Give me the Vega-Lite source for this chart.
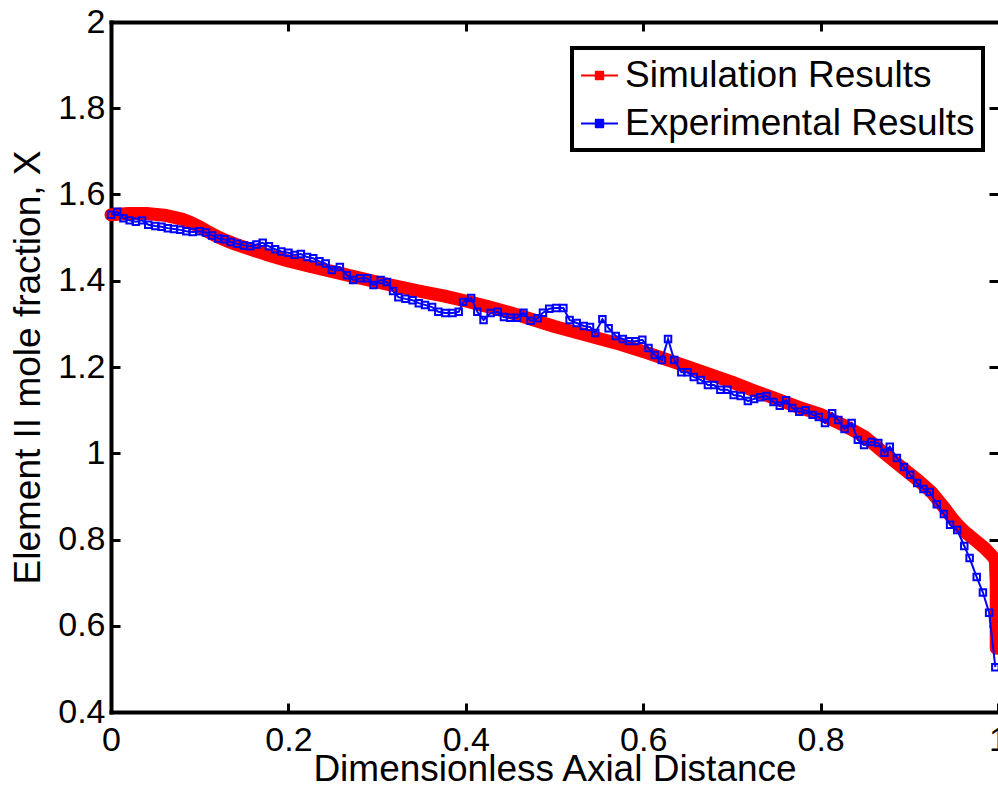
{
  "$schema": "https://vega.github.io/schema/vega-lite/v6.json",
  "width": 887,
  "height": 690,
  "autosize": {"type": "none"},
  "padding": {"left": 111, "top": 22, "right": 0, "bottom": 81},
  "background": "white",
  "config": {
    "view": {"stroke": null},
    "font": "Liberation Sans",
    "axis": {
      "domainColor": "black", "domainWidth": 4, "domainCap": "square",
      "tickColor": "black", "tickWidth": 3, "tickSize": -9,
      "labelFont": "Liberation Sans", "labelFontSize": 34, "labelColor": "black",
      "titleFont": "Liberation Sans", "titleFontSize": 37, "titleFontWeight": "normal", "titleColor": "black",
      "grid": false, "labelFlush": false, "labelOverlap": false
    }
  },
  "datasets": {
    "sim": [
      {"s":"Simulation Results","x":0,"y":1.553},{"s":"Simulation Results","x":0.02,"y":1.556},{"s":"Simulation Results","x":0.04,"y":1.556},{"s":"Simulation Results","x":0.06,"y":1.552},{"s":"Simulation Results","x":0.08,"y":1.543},{"s":"Simulation Results","x":0.09,"y":1.535},{"s":"Simulation Results","x":0.1,"y":1.525},{"s":"Simulation Results","x":0.11,"y":1.513},{"s":"Simulation Results","x":0.12,"y":1.502},{"s":"Simulation Results","x":0.13,"y":1.493},{"s":"Simulation Results","x":0.14,"y":1.485},{"s":"Simulation Results","x":0.15,"y":1.478},{"s":"Simulation Results","x":0.175,"y":1.461},{"s":"Simulation Results","x":0.2,"y":1.446},{"s":"Simulation Results","x":0.225,"y":1.433},{"s":"Simulation Results","x":0.25,"y":1.421},{"s":"Simulation Results","x":0.275,"y":1.409},{"s":"Simulation Results","x":0.3,"y":1.397},{"s":"Simulation Results","x":0.325,"y":1.386},{"s":"Simulation Results","x":0.35,"y":1.375},{"s":"Simulation Results","x":0.375,"y":1.365},{"s":"Simulation Results","x":0.4,"y":1.353},{"s":"Simulation Results","x":0.425,"y":1.34},{"s":"Simulation Results","x":0.45,"y":1.326},{"s":"Simulation Results","x":0.475,"y":1.31},{"s":"Simulation Results","x":0.5,"y":1.294},{"s":"Simulation Results","x":0.525,"y":1.28},{"s":"Simulation Results","x":0.55,"y":1.266},{"s":"Simulation Results","x":0.575,"y":1.252},{"s":"Simulation Results","x":0.6,"y":1.236},{"s":"Simulation Results","x":0.625,"y":1.218},{"s":"Simulation Results","x":0.65,"y":1.201},{"s":"Simulation Results","x":0.675,"y":1.183},{"s":"Simulation Results","x":0.7,"y":1.165},{"s":"Simulation Results","x":0.725,"y":1.145},{"s":"Simulation Results","x":0.75,"y":1.126},{"s":"Simulation Results","x":0.775,"y":1.107},{"s":"Simulation Results","x":0.8,"y":1.09},{"s":"Simulation Results","x":0.825,"y":1.066},{"s":"Simulation Results","x":0.85,"y":1.038},{"s":"Simulation Results","x":0.872,"y":1.0},{"s":"Simulation Results","x":0.89,"y":0.97},{"s":"Simulation Results","x":0.91,"y":0.937},{"s":"Simulation Results","x":0.925,"y":0.91},{"s":"Simulation Results","x":0.94,"y":0.872},{"s":"Simulation Results","x":0.948,"y":0.85},{"s":"Simulation Results","x":0.955,"y":0.833},{"s":"Simulation Results","x":0.963,"y":0.817},{"s":"Simulation Results","x":0.975,"y":0.797},{"s":"Simulation Results","x":0.985,"y":0.78},{"s":"Simulation Results","x":0.993,"y":0.763},{"s":"Simulation Results","x":0.997,"y":0.752},{"s":"Simulation Results","x":0.998,"y":0.7},{"s":"Simulation Results","x":0.998,"y":0.64},{"s":"Simulation Results","x":0.998,"y":0.585},{"s":"Simulation Results","x":0.998,"y":0.548}
    ],
    "exp": [
      {"s":"Experimental Results","x":0,"y":1.553},{"s":"Experimental Results","x":0.007,"y":1.56},{"s":"Experimental Results","x":0.014,"y":1.545},{"s":"Experimental Results","x":0.021,"y":1.54},{"s":"Experimental Results","x":0.028,"y":1.537},{"s":"Experimental Results","x":0.035,"y":1.54},{"s":"Experimental Results","x":0.042,"y":1.53},{"s":"Experimental Results","x":0.05,"y":1.527},{"s":"Experimental Results","x":0.057,"y":1.525},{"s":"Experimental Results","x":0.064,"y":1.522},{"s":"Experimental Results","x":0.071,"y":1.52},{"s":"Experimental Results","x":0.078,"y":1.518},{"s":"Experimental Results","x":0.085,"y":1.515},{"s":"Experimental Results","x":0.092,"y":1.513},{"s":"Experimental Results","x":0.1,"y":1.515},{"s":"Experimental Results","x":0.107,"y":1.512},{"s":"Experimental Results","x":0.114,"y":1.505},{"s":"Experimental Results","x":0.121,"y":1.498},{"s":"Experimental Results","x":0.128,"y":1.496},{"s":"Experimental Results","x":0.135,"y":1.49},{"s":"Experimental Results","x":0.142,"y":1.486},{"s":"Experimental Results","x":0.15,"y":1.482},{"s":"Experimental Results","x":0.157,"y":1.48},{"s":"Experimental Results","x":0.164,"y":1.484},{"s":"Experimental Results","x":0.171,"y":1.488},{"s":"Experimental Results","x":0.178,"y":1.48},{"s":"Experimental Results","x":0.185,"y":1.473},{"s":"Experimental Results","x":0.192,"y":1.468},{"s":"Experimental Results","x":0.2,"y":1.465},{"s":"Experimental Results","x":0.207,"y":1.46},{"s":"Experimental Results","x":0.214,"y":1.462},{"s":"Experimental Results","x":0.221,"y":1.455},{"s":"Experimental Results","x":0.228,"y":1.452},{"s":"Experimental Results","x":0.235,"y":1.445},{"s":"Experimental Results","x":0.242,"y":1.44},{"s":"Experimental Results","x":0.249,"y":1.425},{"s":"Experimental Results","x":0.258,"y":1.432},{"s":"Experimental Results","x":0.266,"y":1.413},{"s":"Experimental Results","x":0.273,"y":1.402},{"s":"Experimental Results","x":0.281,"y":1.406},{"s":"Experimental Results","x":0.289,"y":1.406},{"s":"Experimental Results","x":0.296,"y":1.39},{"s":"Experimental Results","x":0.304,"y":1.402},{"s":"Experimental Results","x":0.311,"y":1.397},{"s":"Experimental Results","x":0.318,"y":1.376},{"s":"Experimental Results","x":0.324,"y":1.362},{"s":"Experimental Results","x":0.332,"y":1.358},{"s":"Experimental Results","x":0.34,"y":1.355},{"s":"Experimental Results","x":0.347,"y":1.348},{"s":"Experimental Results","x":0.354,"y":1.344},{"s":"Experimental Results","x":0.362,"y":1.339},{"s":"Experimental Results","x":0.369,"y":1.328},{"s":"Experimental Results","x":0.377,"y":1.325},{"s":"Experimental Results","x":0.385,"y":1.325},{"s":"Experimental Results","x":0.392,"y":1.328},{"s":"Experimental Results","x":0.397,"y":1.351},{"s":"Experimental Results","x":0.406,"y":1.36},{"s":"Experimental Results","x":0.413,"y":1.328},{"s":"Experimental Results","x":0.42,"y":1.309},{"s":"Experimental Results","x":0.428,"y":1.325},{"s":"Experimental Results","x":0.436,"y":1.328},{"s":"Experimental Results","x":0.443,"y":1.316},{"s":"Experimental Results","x":0.45,"y":1.314},{"s":"Experimental Results","x":0.458,"y":1.314},{"s":"Experimental Results","x":0.465,"y":1.326},{"s":"Experimental Results","x":0.473,"y":1.307},{"s":"Experimental Results","x":0.481,"y":1.313},{"s":"Experimental Results","x":0.487,"y":1.326},{"s":"Experimental Results","x":0.494,"y":1.335},{"s":"Experimental Results","x":0.502,"y":1.337},{"s":"Experimental Results","x":0.51,"y":1.337},{"s":"Experimental Results","x":0.517,"y":1.309},{"s":"Experimental Results","x":0.525,"y":1.302},{"s":"Experimental Results","x":0.533,"y":1.295},{"s":"Experimental Results","x":0.54,"y":1.293},{"s":"Experimental Results","x":0.546,"y":1.279},{"s":"Experimental Results","x":0.554,"y":1.311},{"s":"Experimental Results","x":0.561,"y":1.29},{"s":"Experimental Results","x":0.569,"y":1.272},{"s":"Experimental Results","x":0.577,"y":1.265},{"s":"Experimental Results","x":0.584,"y":1.26},{"s":"Experimental Results","x":0.591,"y":1.26},{"s":"Experimental Results","x":0.599,"y":1.263},{"s":"Experimental Results","x":0.606,"y":1.244},{"s":"Experimental Results","x":0.613,"y":1.228},{"s":"Experimental Results","x":0.621,"y":1.216},{"s":"Experimental Results","x":0.628,"y":1.265},{"s":"Experimental Results","x":0.635,"y":1.216},{"s":"Experimental Results","x":0.643,"y":1.188},{"s":"Experimental Results","x":0.65,"y":1.188},{"s":"Experimental Results","x":0.657,"y":1.177},{"s":"Experimental Results","x":0.665,"y":1.17},{"s":"Experimental Results","x":0.673,"y":1.158},{"s":"Experimental Results","x":0.68,"y":1.158},{"s":"Experimental Results","x":0.687,"y":1.147},{"s":"Experimental Results","x":0.695,"y":1.147},{"s":"Experimental Results","x":0.702,"y":1.135},{"s":"Experimental Results","x":0.71,"y":1.133},{"s":"Experimental Results","x":0.718,"y":1.121},{"s":"Experimental Results","x":0.725,"y":1.126},{"s":"Experimental Results","x":0.732,"y":1.13},{"s":"Experimental Results","x":0.739,"y":1.133},{"s":"Experimental Results","x":0.747,"y":1.119},{"s":"Experimental Results","x":0.754,"y":1.11},{"s":"Experimental Results","x":0.761,"y":1.123},{"s":"Experimental Results","x":0.768,"y":1.105},{"s":"Experimental Results","x":0.776,"y":1.096},{"s":"Experimental Results","x":0.783,"y":1.1},{"s":"Experimental Results","x":0.791,"y":1.089},{"s":"Experimental Results","x":0.798,"y":1.084},{"s":"Experimental Results","x":0.805,"y":1.07},{"s":"Experimental Results","x":0.813,"y":1.093},{"s":"Experimental Results","x":0.82,"y":1.077},{"s":"Experimental Results","x":0.827,"y":1.056},{"s":"Experimental Results","x":0.835,"y":1.07},{"s":"Experimental Results","x":0.842,"y":1.031},{"s":"Experimental Results","x":0.849,"y":1.019},{"s":"Experimental Results","x":0.857,"y":1.026},{"s":"Experimental Results","x":0.865,"y":1.024},{"s":"Experimental Results","x":0.872,"y":1.001},{"s":"Experimental Results","x":0.878,"y":1.015},{"s":"Experimental Results","x":0.886,"y":0.989},{"s":"Experimental Results","x":0.894,"y":0.968},{"s":"Experimental Results","x":0.901,"y":0.95},{"s":"Experimental Results","x":0.909,"y":0.931},{"s":"Experimental Results","x":0.916,"y":0.917},{"s":"Experimental Results","x":0.923,"y":0.91},{"s":"Experimental Results","x":0.931,"y":0.882},{"s":"Experimental Results","x":0.939,"y":0.859},{"s":"Experimental Results","x":0.946,"y":0.834},{"s":"Experimental Results","x":0.954,"y":0.822},{"s":"Experimental Results","x":0.962,"y":0.785},{"s":"Experimental Results","x":0.968,"y":0.757},{"s":"Experimental Results","x":0.976,"y":0.713},{"s":"Experimental Results","x":0.983,"y":0.677},{"s":"Experimental Results","x":0.99,"y":0.63},{"s":"Experimental Results","x":0.997,"y":0.504}
    ]
  },
  "encoding": {
    "color": {
      "field": "s", "type": "nominal",
      "scale": {"domain": ["Simulation Results", "Experimental Results"], "range": ["#ff0000", "#0000ff"]},
      "legend": {
        "orient": "none", "legendX": 461, "legendY": 26, "title": null,
        "labelFont": "Liberation Sans", "labelFontSize": 37, "labelColor": "black", "labelLimit": 0,
        "symbolSize": 1369, "labelOffset": 6, "padding": 8, "rowPadding": 10,
        "strokeColor": "black", "fillColor": "white",
        "encode": {
          "legend": {"update": {"strokeWidth": {"value": 4}}},
          "symbols": {"update": {
            "shape": {"condition": {"test": "datum.value === 'Simulation Results'", "value": "M-1,0H-0.28M0.28,0H1M0.28,0L0.24,0.14L0.14,0.24L0,0.28L-0.14,0.24L-0.24,0.14L-0.28,0L-0.24,-0.14L-0.14,-0.24L0,-0.28L0.14,-0.24L0.24,-0.14Z"}, "value": "M-1,0H-0.2M0.2,0H1M-0.2,-0.2H0.2V0.2H-0.2Z"},
            "strokeWidth": {"condition": {"test": "datum.value === 'Simulation Results'", "value": 5}, "value": 2},
            "stroke": {"condition": {"test": "datum.value === 'Simulation Results'", "value": "#ff0000"}, "value": "#0000ff"},
            "fill": {"condition": {"test": "datum.value === 'Simulation Results'", "value": "#ff0000"}, "value": "transparent"},
            "strokeJoin": {"value": "round"},
            "opacity": {"value": 1}
          }}
        }
      }
    }
  },
  "layer": [
    {
      "data": {"name": "sim"},
      "mark": {"type": "line", "strokeWidth": 13, "strokeCap": "round", "strokeJoin": "round"},
      "encoding": {
        "x": {"field": "x", "type": "quantitative", "scale": {"domain": [0, 1], "nice": false, "zero": false},
              "axis": {"orient": "bottom", "values": [0, 0.2, 0.4, 0.6, 0.8, 1], "format": "~g", "labelPadding": 20,
                       "title": "Dimensionless Axial Distance", "titleY": 68, "titleBaseline": "alphabetic"}},
        "y": {"field": "y", "type": "quantitative", "scale": {"domain": [0.4, 2], "nice": false, "zero": false},
              "axis": {"orient": "left", "values": [0.4, 0.6, 0.8, 1, 1.2, 1.4, 1.6, 1.8, 2], "format": "~g", "labelPadding": 15,
                       "title": "Element II mole fraction, X", "titleX": -83, "titleBaseline": "middle"}},
        "order": {"value": null}
      }
    },
    {
      "data": {"name": "sim"},
      "mark": {"type": "point", "filled": true, "shape": "circle", "size": 140, "opacity": 1},
      "encoding": {
        "x": {"field": "x", "type": "quantitative", "axis": null},
        "y": {"field": "y", "type": "quantitative", "axis": null}
      }
    },
    {
      "data": {"name": "exp"},
      "mark": {"type": "line", "strokeWidth": 2},
      "encoding": {
        "x": {"field": "x", "type": "quantitative", "axis": null},
        "y": {"field": "y", "type": "quantitative", "axis": null},
        "order": {"value": null}
      }
    },
    {
      "data": {"name": "exp"},
      "mark": {"type": "point", "filled": false, "shape": "square", "size": 42, "strokeWidth": 2, "opacity": 1},
      "encoding": {
        "x": {"field": "x", "type": "quantitative",
              "axis": {"orient": "top", "values": [0.2, 0.4, 0.6, 0.8], "labels": false, "title": null}},
        "y": {"field": "y", "type": "quantitative",
              "axis": {"orient": "right", "values": [0.4, 0.6, 0.8, 1, 1.2, 1.4, 1.6, 1.8, 2], "labels": false, "title": null, "domain": false}}
      }
    }
  ],
  "resolve": {"axis": {"x": "independent", "y": "independent"}}
}
